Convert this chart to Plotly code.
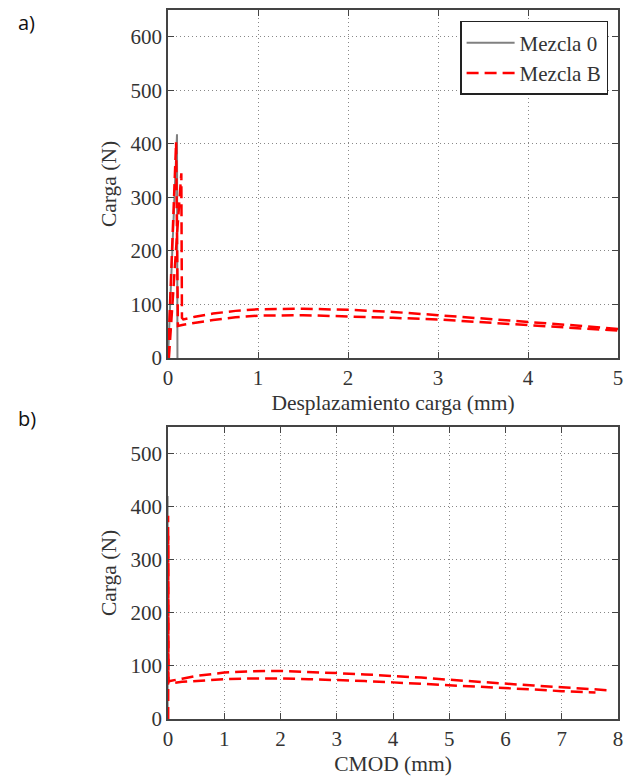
import plotly.graph_objects as go

# ---- data ----
# Panel a: load vs. load-point displacement
m0_a_x = [0.0, 0.10, 0.105]
m0_a_y = [0, 418, 0]

b1_a_x = [0.0, 0.03, 0.06, 0.09, 0.10, 0.11, 0.17, 0.3, 0.5, 0.75, 1.0, 1.5, 2.0, 2.5, 3.0, 3.5, 4.0, 4.5, 5.0]
b1_a_y = [0, 130, 265, 403, 230, 60, 62, 66, 71, 76, 79, 80, 78, 75, 72, 67, 62, 57, 51]

b2_a_x = [0.01, 0.05, 0.10, 0.148, 0.155, 0.17, 0.3, 0.5, 0.75, 1.0, 1.5, 2.0, 2.5, 3.0, 3.5, 4.0, 4.5, 5.0]
b2_a_y = [0, 110, 230, 345, 75, 72, 77, 83, 88, 91, 92, 90, 86, 80, 74, 67, 61, 54]

# Panel b: load vs. CMOD
m0_b_x = [0.0, 0.0, 0.0]
m0_b_y = [0, 420, 0]

b1_b_x = [0.0, 0.002, 0.006, 0.25, 0.5, 1.0, 1.5, 2.0, 2.5, 3.0, 3.5, 4.0, 4.5, 5.0, 5.5, 6.0, 6.5, 7.0, 7.6]
b1_b_y = [0, 383, 67, 70, 72, 75, 76.5, 76.5, 75, 73.5, 71.5, 69, 66.5, 64, 61, 58.5, 55.5, 52.5, 50]

b2_b_x = [0.0, 0.003, 0.008, 0.25, 0.5, 1.0, 1.5, 2.0, 2.5, 3.0, 3.5, 4.0, 4.5, 5.0, 5.5, 6.0, 6.5, 7.0, 7.5, 7.85]
b2_b_y = [0, 345, 71, 76, 81, 87.5, 90, 90.5, 89, 86.5, 84, 81.5, 78, 74, 70, 66.5, 63, 60, 57, 54]

names = ["Mezcla 0", "Mezcla B"]
xticks_a = [0, 1, 2, 3, 4, 5]
yticks_a = [0, 100, 200, 300, 400, 500, 600]
xticks_b = [0, 1, 2, 3, 4, 5, 6, 7, 8]
yticks_b = [0, 100, 200, 300, 400, 500]

# ---- styling ----
GRAY = "#808080"
RED = "#ff0000"
AX = "#444444"
TXT = "#333333"
FONT = "Liberation Serif"
DASH = "12px,6px"

fig = go.Figure()

fig.add_trace(go.Scatter(x=m0_a_x, y=m0_a_y, mode="lines", name=names[0],
                         line=dict(color=GRAY, width=2), xaxis="x", yaxis="y"))
fig.add_trace(go.Scatter(x=b1_a_x, y=b1_a_y, mode="lines", name=names[1],
                         line=dict(color=RED, width=2.5, dash=DASH), xaxis="x", yaxis="y"))
fig.add_trace(go.Scatter(x=b2_a_x, y=b2_a_y, mode="lines", name=names[1], showlegend=False,
                         line=dict(color=RED, width=2.5, dash=DASH), xaxis="x", yaxis="y"))

fig.add_trace(go.Scatter(x=m0_b_x, y=m0_b_y, mode="lines", name=names[0], showlegend=False,
                         line=dict(color=GRAY, width=1.2), xaxis="x2", yaxis="y2"))
fig.add_trace(go.Scatter(x=b1_b_x, y=b1_b_y, mode="lines", name=names[1], showlegend=False,
                         line=dict(color=RED, width=2.5, dash=DASH), xaxis="x2", yaxis="y2"))
fig.add_trace(go.Scatter(x=b2_b_x, y=b2_b_y, mode="lines", name=names[1], showlegend=False,
                         line=dict(color=RED, width=2.5, dash=DASH), xaxis="x2", yaxis="y2"))

common = dict(showline=True, linecolor=AX, linewidth=1.5, mirror="ticks",
              ticks="inside", ticklen=6, tickwidth=1, tickcolor=AX,
              showgrid=True, gridcolor="#888888", gridwidth=1, griddash="1px,3px",
              zeroline=False, tickfont=dict(family=FONT, size=21, color=TXT))

TITLE_FONT = dict(family=FONT, size=21.5, color=TXT)

fig.update_layout(
    width=625, height=770,
    margin=dict(l=160, r=15, t=2, b=59, autoexpand=False),
    paper_bgcolor="white", plot_bgcolor="white",
    font=dict(family=FONT, size=20, color=TXT),
    showlegend=True,
    legend=dict(x=0.978, y=0.9845, xanchor="right", yanchor="top",
                bgcolor="white", bordercolor="#222222", borderwidth=1.5,
                font=dict(family=FONT, size=21, color=TXT),
                itemwidth=48, tracegroupgap=0),
    xaxis=dict(domain=[0, 1], range=[0, 5], tickvals=xticks_a, anchor="y",
               title=dict(text="Desplazamiento carga (mm)", standoff=6, font=TITLE_FONT), **common),
    yaxis=dict(domain=[0.5092, 1.0], range=[0, 650], tickvals=yticks_a, anchor="x",
               title=dict(text="Carga (N)", standoff=8, font=TITLE_FONT), **common),
    xaxis2=dict(domain=[0, 1], range=[0, 8], tickvals=xticks_b, anchor="y2",
                title=dict(text="CMOD (mm)", standoff=6, font=TITLE_FONT), **common),
    yaxis2=dict(domain=[0, 0.4118], range=[0, 550], tickvals=yticks_b, anchor="x2",
                title=dict(text="Carga (N)", standoff=8, font=TITLE_FONT), **common),
)

fig.add_annotation(text="a)", xref="paper", yref="paper", x=-0.336, y=0.982,
                   xanchor="left", yanchor="middle", showarrow=False, borderpad=0,
                   font=dict(family="Open Sans", size=20, color="#111111"))
fig.add_annotation(text="b)", xref="paper", yref="paper", x=-0.336, y=0.4245,
                   xanchor="left", yanchor="middle", showarrow=False, borderpad=0,
                   font=dict(family="Open Sans", size=20, color="#111111"))

fig.write_html("out.html")
